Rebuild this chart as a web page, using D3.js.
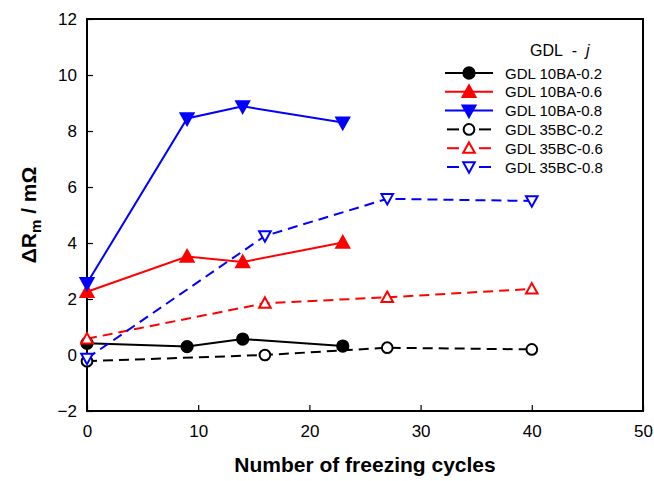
<!DOCTYPE html>
<html><head><meta charset="utf-8">
<script src="https://cdn.jsdelivr.net/npm/d3@7"></script>
<style>body{margin:0;background:#fff}svg{display:block;font-family:"Liberation Sans",Arial,sans-serif}</style>
</head><body>
<svg id="c" width="654" height="481"></svg>
<script>
const xTicks = [0,10,20,30,40,50];
const yTicks = [-2,0,2,4,6,8,10,12];
const cyclesBA = [0,9,14,23];
const cyclesBC = [0,16,27,40];
const ba02 = [0.42,0.30,0.57,0.32];
const ba06 = [2.26,3.52,3.32,4.02];
const ba08 = [2.56,8.45,8.88,8.30];
const bc02 = [-0.22,0.0,0.26,0.20];
const bc06 = [0.58,1.85,2.06,2.36];
const bc08 = [-0.12,4.25,5.58,5.50];
const seriesNames = ["GDL 10BA-0.2","GDL 10BA-0.6","GDL 10BA-0.8","GDL 35BC-0.2","GDL 35BC-0.6","GDL 35BC-0.8"];

const series = [
  {name:seriesNames[0], x:cyclesBA, y:ba02, color:"#000", dash:null, marker:"circle", fill:true},
  {name:seriesNames[1], x:cyclesBA, y:ba06, color:"#ff0000", dash:null, marker:"up", fill:true},
  {name:seriesNames[2], x:cyclesBA, y:ba08, color:"#0000ff", dash:null, marker:"down", fill:true},
  {name:seriesNames[3], x:cyclesBC, y:bc02, color:"#000", dash:"10,6", marker:"circle", fill:false},
  {name:seriesNames[4], x:cyclesBC, y:bc06, color:"#ff0000", dash:"10,6", marker:"up", fill:false},
  {name:seriesNames[5], x:cyclesBC, y:bc08, color:"#0000ff", dash:"10,6", marker:"down", fill:false}
];

const svg = d3.select("#c");
const x = d3.scaleLinear().domain([0,50]).range([87,643]);
const y = d3.scaleLinear().domain([-2,12]).range([411,19]);

// frame
svg.append("rect").attr("x",x(0)).attr("y",y(12)).attr("width",x(50)-x(0)).attr("height",y(-2)-y(12))
  .attr("fill","none").attr("stroke","#000").attr("stroke-width",2);

// axes
const xAxis = d3.axisBottom(x).tickValues(xTicks).tickSizeInner(-6).tickSizeOuter(0).tickPadding(14);
const gx = svg.append("g").attr("transform",`translate(0,${y(-2)})`).call(xAxis);
gx.select(".domain").remove();
gx.selectAll("line").attr("stroke","#000").attr("stroke-width",1.2);
gx.selectAll("text").attr("font-size",17).attr("fill","#000").attr("font-family","Liberation Sans, Arial, sans-serif");

const yAxis = d3.axisLeft(y).tickValues(yTicks).tickSizeInner(-6).tickSizeOuter(0).tickPadding(10);
const gy = svg.append("g").attr("transform",`translate(${x(0)},0)`).call(yAxis);
gy.select(".domain").remove();
gy.selectAll("line").attr("stroke","#000").attr("stroke-width",1.2);
gy.selectAll("text").attr("font-size",17).attr("fill","#000").attr("font-family","Liberation Sans, Arial, sans-serif");

// axis titles
svg.append("text").attr("x",(x(0)+x(50))/2).attr("y",472).attr("text-anchor","middle")
  .attr("font-size",21).attr("font-weight","bold").text("Number of freezing cycles");
const yl = svg.append("text").attr("transform",`translate(36,${(y(12)+y(-2))/2}) rotate(-90)`)
  .attr("text-anchor","middle").attr("font-size",21).attr("font-weight","bold");
yl.append("tspan").text("ΔR");
yl.append("tspan").attr("font-size",15).attr("dy",5).text("m");
yl.append("tspan").attr("dy",-5).text(" / mΩ");

function markerPath(type, fill){
  if(type==="circle") return d3.symbol().type(d3.symbolCircle).size(fill?100:90)();
  const s = fill ? 6.5 : 5.8;
  if(type==="up") return `M0,${-s}L${s},${s*0.8}L${-s},${s*0.8}Z`;
  return `M0,${s}L${s},${-s*0.8}L${-s},${-s*0.8}Z`;
}
function drawMarker(g, s, cx, cy){
  g.append("path").attr("d",markerPath(s.marker, s.fill)).attr("transform",`translate(${cx},${cy})`)
    .attr("fill", s.fill ? s.color : "#fff").attr("stroke",s.color).attr("stroke-width",2);
}

const line = d3.line().x(d=>x(d[0])).y(d=>y(d[1]));
const g = svg.append("g");
series.forEach(s=>{
  const pts = s.x.map((v,i)=>[v,s.y[i]]);
  g.append("path").attr("d",line(pts)).attr("fill","none").attr("stroke",s.color)
    .attr("stroke-width",2).attr("stroke-dasharray",s.dash);
});
series.forEach(s=>{
  s.x.forEach((v,i)=>drawMarker(g,s,x(v),y(s.y[i])));
});

// legend
const lg = svg.append("g");
const lt = lg.append("text").attr("x",530).attr("y",56).attr("font-size",16);
lt.append("tspan").text("GDL\u00a0\u00a0-\u00a0\u00a0");
lt.append("tspan").attr("font-style","italic").text("j");
series.forEach((s,i)=>{
  const cy = 73 + i*18.8;
  if(s.dash){
    lg.append("line").attr("x1",447).attr("x2",459).attr("y1",cy).attr("y2",cy).attr("stroke",s.color).attr("stroke-width",2);
    lg.append("line").attr("x1",479).attr("x2",491).attr("y1",cy).attr("y2",cy).attr("stroke",s.color).attr("stroke-width",2);
  } else {
    lg.append("line").attr("x1",445).attr("x2",493).attr("y1",cy).attr("y2",cy).attr("stroke",s.color).attr("stroke-width",2);
  }
  drawMarker(lg,s,469,cy);
  lg.append("text").attr("x",505).attr("y",cy+5.5).attr("font-size",15).text(s.name);
});
</script>
</body></html>
